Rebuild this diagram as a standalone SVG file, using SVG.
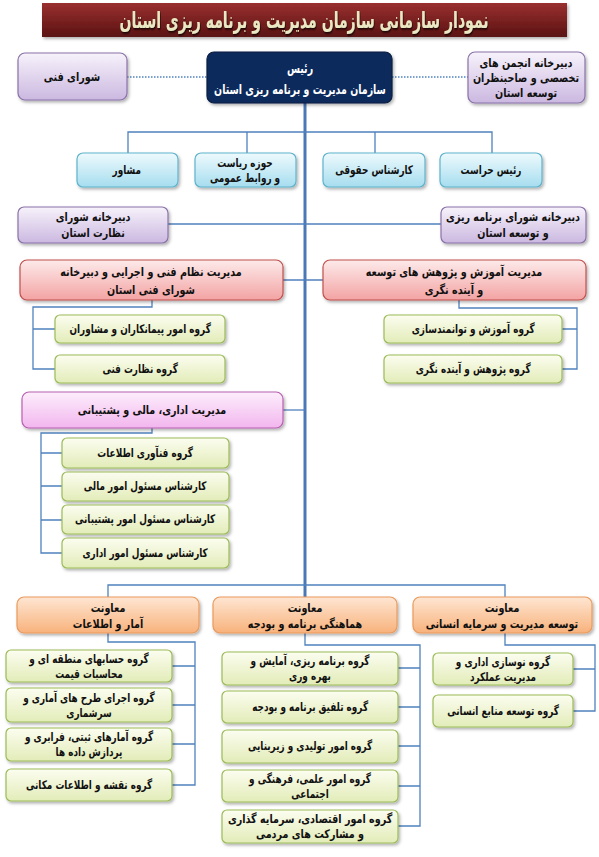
<svg xmlns="http://www.w3.org/2000/svg" width="599" height="857" viewBox="0 0 599 857">
<defs>
<linearGradient id="gTitle" x1="0" y1="0" x2="0" y2="1"><stop offset="0" stop-color="#9a3030"/><stop offset="1" stop-color="#5a1212"/></linearGradient>
<linearGradient id="gLav" x1="0" y1="0" x2="0" y2="1"><stop offset="0" stop-color="#f7f2fb"/><stop offset="1" stop-color="#cbb8e0"/></linearGradient>
<linearGradient id="gBlue" x1="0" y1="0" x2="0" y2="1"><stop offset="0" stop-color="#eefafd"/><stop offset="1" stop-color="#a6ddef"/></linearGradient>
<linearGradient id="gRed" x1="0" y1="0" x2="0" y2="1"><stop offset="0" stop-color="#fdeaea"/><stop offset="1" stop-color="#f3a3a3"/></linearGradient>
<linearGradient id="gPink" x1="0" y1="0" x2="0" y2="1"><stop offset="0" stop-color="#fdeefc"/><stop offset="1" stop-color="#f2b6ee"/></linearGradient>
<linearGradient id="gGreen" x1="0" y1="0" x2="0" y2="1"><stop offset="0" stop-color="#fcfdf0"/><stop offset="1" stop-color="#e2ecb8"/></linearGradient>
<linearGradient id="gOrange" x1="0" y1="0" x2="0" y2="1"><stop offset="0" stop-color="#fee6d2"/><stop offset="1" stop-color="#f8b27c"/></linearGradient>
<filter id="sh" x="-10%" y="-20%" width="125%" height="150%"><feDropShadow dx="1.5" dy="2" stdDeviation="1.5" flood-color="#000" flood-opacity="0.3"/></filter>
<filter id="tsh" x="-5%" y="-20%" width="110%" height="150%"><feDropShadow dx="1" dy="1.5" stdDeviation="0.8" flood-color="#000" flood-opacity="0.85"/></filter>
</defs>
<style>
text{font-family:"DejaVu Sans",sans-serif;font-weight:bold;font-size:12px;text-anchor:middle;fill:#111;transform-box:fill-box;transform-origin:center;transform:scaleX(0.74);}
.lt{transform:scaleX(0.8);}
.box{filter:url(#sh);stroke-width:1.2;}
.lav{fill:url(#gLav);stroke:#8a72a8;}
.blue{fill:url(#gBlue);stroke:#5fb3cc;}
.red{fill:url(#gRed);stroke:#c0504d;}
.pink{fill:url(#gPink);stroke:#b860b0;}
.green{fill:url(#gGreen);stroke:#9bbb59;}
.orange{fill:url(#gOrange);stroke:#e99a5c;}
.navy{fill:#0b2a5c;stroke:#081d40;}
.ln{fill:none;stroke:#4f81bd;stroke-width:1.3;}
.main{fill:none;stroke:#4a78b5;stroke-width:3;}
.dot{fill:none;stroke:#4f81bd;stroke-width:1.3;stroke-dasharray:1.5 1.5;}
.w{fill:#fff;font-size:13.5px;transform:scaleX(0.7);}
.title{fill:#e9e8c2;font-size:23px;filter:url(#tsh);transform:scaleX(0.61);}
</style>

<g id="connectors">
<path class="main" d="M305 103 V597"/>
<path class="dot" d="M127 77 H207 M392 77 H468"/>
<path class="ln" d="M128 153 V132 H492 V153 M247 132 V153 M375 132 V153"/>
<path class="ln" d="M168 224 H441"/>
<path class="ln" d="M283 280 H323"/>
<path class="ln" d="M152 300 V307 H33 V369 H55 M33 329 H55"/>
<path class="ln" d="M459 300 V308 H577 V369 H562 M577 329 H562"/>
<path class="ln" d="M283 410 H305"/>
<path class="ln" d="M152 428 V433 H41 V553 H62 M41 453 H62 M41 486 H62 M41 520 H62"/>
<path class="ln" d="M108 597 V585 H505 V597"/>
<path class="ln" d="M108 633 V642 H195 V785 H172 M195 666 H172 M195 705 H172 M195 744 H172"/>
<path class="ln" d="M305 633 V645 H420 V826 H398 M420 668 H398 M420 707 H398 M420 746 H398 M420 786 H398"/>
<path class="ln" d="M505 633 V645 H595 V711 H573 M595 669 H573"/>
</g>

<g id="title">
<rect x="42" y="3" width="525" height="34" fill="url(#gTitle)" filter="url(#sh)"/>
<text class="title" x="304" y="28">نمودار سازمانی سازمان مدیریت و برنامه ریزی استان</text>
</g>

<g id="n-shoraye-fanni"><rect class="box lav" x="18" y="53" width="109" height="47" rx="7"/><text class="lt" x="72" y="81">شورای فنی</text></g>
<g id="n-raees"><rect class="box navy" x="207" y="52" width="185" height="51" rx="7"/><text class="w" x="300" y="73">رئیس</text><text class="w" x="300" y="94">سازمان مدیریت و برنامه ریزی استان</text></g>
<g id="n-anjoman"><rect class="box lav" x="468" y="52" width="117" height="51" rx="7"/><text class="lt" x="526" y="67">دبیرخانه انجمن های</text><text class="lt" x="526" y="82">تخصصی و صاحبنظران</text><text class="lt" x="526" y="97">توسعه استان</text></g>

<g id="n-moshaver"><rect class="box blue" x="77" y="153" width="101" height="34" rx="6"/><text x="127" y="174">مشاور</text></g>
<g id="n-hoze"><rect class="box blue" x="195" y="153" width="101" height="34" rx="6"/><text x="245" y="167">حوزه ریاست</text><text x="245" y="182">و روابط عمومی</text></g>
<g id="n-hoghoghi"><rect class="box blue" x="323" y="153" width="102" height="34" rx="6"/><text x="374" y="174">کارشناس حقوقی</text></g>
<g id="n-herasat"><rect class="box blue" x="440" y="153" width="102" height="34" rx="6"/><text x="491" y="174">رئیس حراست</text></g>

<g id="n-nezarat"><rect class="box lav" x="18" y="207" width="150" height="36" rx="6"/><text class="lt" x="93" y="221">دبیرخانه شورای</text><text class="lt" x="93" y="237">نظارت استان</text></g>
<g id="n-barnamerizi"><rect class="box lav" x="441" y="207" width="145" height="36" rx="6"/><text class="lt" x="513" y="221">دبیرخانه شورای برنامه ریزی</text><text class="lt" x="513" y="237">و توسعه استان</text></g>

<g id="n-nezam-fanni"><rect class="box red" x="20" y="260" width="263" height="40" rx="7"/><text class="lt" x="151" y="276">مدیریت نظام فنی و اجرایی و دبیرخانه</text><text class="lt" x="151" y="294">شورای فنی استان</text></g>
<g id="n-amozesh"><rect class="box red" x="323" y="260" width="263" height="40" rx="7"/><text class="lt" x="454" y="276">مدیریت آموزش و پژوهش های توسعه</text><text class="lt" x="454" y="294">و آینده نگری</text></g>

<g id="n-peymankaran"><rect class="box green" x="55" y="315" width="170" height="28" rx="5"/><text x="140" y="333">گروه امور پیمانکاران و مشاوران</text></g>
<g id="n-nezarat-fanni"><rect class="box green" x="55" y="355" width="170" height="28" rx="5"/><text x="140" y="373">گروه نظارت فنی</text></g>
<g id="n-tavanmand"><rect class="box green" x="384" y="315" width="178" height="28" rx="5"/><text x="473" y="333">گروه آموزش و توانمندسازی</text></g>
<g id="n-pajohesh"><rect class="box green" x="384" y="355" width="178" height="28" rx="5"/><text x="473" y="373">گروه پژوهش و آینده نگری</text></g>

<g id="n-edari"><rect class="box pink" x="22" y="392" width="261" height="36" rx="7"/><text class="lt" x="152" y="414">مدیریت اداری، مالی و پشتیبانی</text></g>
<g id="n-fanavari"><rect class="box green" x="62" y="438" width="167" height="30" rx="5"/><text x="145" y="457">گروه فنآوری اطلاعات</text></g>
<g id="n-mali"><rect class="box green" x="62" y="472" width="167" height="29" rx="5"/><text x="145" y="490">کارشناس مسئول امور مالی</text></g>
<g id="n-poshtibani"><rect class="box green" x="62" y="505" width="167" height="29" rx="5"/><text x="145" y="523">کارشناس مسئول امور پشتیبانی</text></g>
<g id="n-omor-edari"><rect class="box green" x="62" y="538" width="167" height="30" rx="5"/><text x="145" y="557">کارشناس مسئول امور اداری</text></g>

<g id="n-amar"><rect class="box orange" x="17" y="597" width="182" height="36" rx="7"/><text class="lt" x="108" y="612">معاونت</text><text class="lt" x="108" y="628">آمار و اطلاعات</text></g>
<g id="n-hamahangi"><rect class="box orange" x="213" y="597" width="184" height="36" rx="7"/><text class="lt" x="305" y="612">معاونت</text><text class="lt" x="305" y="628">هماهنگی برنامه و بودجه</text></g>
<g id="n-tose-modiriat"><rect class="box orange" x="413" y="597" width="179" height="36" rx="7"/><text class="lt" x="502" y="612">معاونت</text><text class="lt" x="502" y="628">توسعه مدیریت و سرمایه انسانی</text></g>

<g id="n-hesabha"><rect class="box green" x="6" y="650" width="166" height="32" rx="5"/><text x="89" y="663">گروه حسابهای منطقه ای و</text><text x="89" y="678">محاسبات قیمت</text></g>
<g id="n-tarh-amari"><rect class="box green" x="6" y="688" width="166" height="34" rx="5"/><text x="89" y="702">گروه اجرای طرح های آماری و</text><text x="89" y="717">سرشماری</text></g>
<g id="n-sabti"><rect class="box green" x="6" y="728" width="166" height="33" rx="5"/><text x="89" y="741">گروه آمارهای ثبتی، فرابری و</text><text x="89" y="756">پردازش داده ها</text></g>
<g id="n-naghshe"><rect class="box green" x="6" y="769" width="166" height="32" rx="5"/><text x="89" y="789">گروه نقشه و اطلاعات مکانی</text></g>

<g id="n-amayesh"><rect class="box green" x="222" y="652" width="176" height="33" rx="5"/><text x="310" y="665">گروه برنامه ریزی، آمایش و</text><text x="310" y="680">بهره وری</text></g>
<g id="n-talfigh"><rect class="box green" x="222" y="691" width="176" height="32" rx="5"/><text x="310" y="711">گروه تلفیق برنامه و بودجه</text></g>
<g id="n-tolidi"><rect class="box green" x="222" y="730" width="176" height="33" rx="5"/><text x="310" y="750">گروه امور تولیدی و زیربنایی</text></g>
<g id="n-elmi"><rect class="box green" x="222" y="770" width="176" height="32" rx="5"/><text x="310" y="783">گروه امور علمی، فرهنگی و</text><text x="310" y="798">اجتماعی</text></g>
<g id="n-eghtesadi"><rect class="box green" x="222" y="810" width="176" height="33" rx="5"/><text class="lt" x="310" y="823">گروه امور اقتصادی، سرمایه گذاری</text><text class="lt" x="310" y="838">و مشارکت های مردمی</text></g>

<g id="n-nosazi"><rect class="box green" x="433" y="653" width="140" height="32" rx="5"/><text x="503" y="666">گروه نوسازی اداری و</text><text x="503" y="681">مدیریت عملکرد</text></g>
<g id="n-manabe"><rect class="box green" x="433" y="695" width="140" height="32" rx="5"/><text x="503" y="715">گروه توسعه منابع انسانی</text></g>
</svg>
